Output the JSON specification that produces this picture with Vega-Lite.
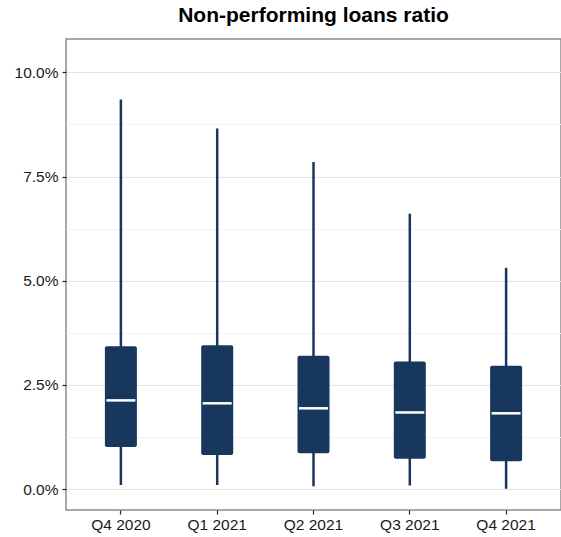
{
  "$schema": "https://vega.github.io/schema/vega-lite/v6.json",
  "autosize": {"type": "none"},
  "width": 495,
  "height": 471,
  "padding": {"left": 66, "top": 39, "right": 0, "bottom": 27},
  "background": "white",
  "config": {
    "font": "Liberation Sans",
    "view": {"stroke": "#8c8c8c", "strokeWidth": 1.5},
    "title": {"fontSize": 21, "fontWeight": "bold", "color": "#000000", "offset": 13}
  },
  "title": "Non-performing loans ratio",
  "data": {
    "values": [
      {"quarter": "Q4 2020", "low": 0.0010, "q1": 0.0101, "median": 0.0213, "q3": 0.0343, "high": 0.0935},
      {"quarter": "Q1 2021", "low": 0.0010, "q1": 0.0082, "median": 0.0206, "q3": 0.0345, "high": 0.0865},
      {"quarter": "Q2 2021", "low": 0.0007, "q1": 0.0086, "median": 0.0194, "q3": 0.0320, "high": 0.0785},
      {"quarter": "Q3 2021", "low": 0.0009, "q1": 0.0073, "median": 0.0184, "q3": 0.0306, "high": 0.0661},
      {"quarter": "Q4 2021", "low": 0.0001, "q1": 0.0067, "median": 0.0182, "q3": 0.0296, "high": 0.0531}
    ]
  },
  "encoding": {
    "x": {
      "field": "quarter",
      "type": "nominal",
      "sort": null,
      "scale": {"paddingInner": 0, "paddingOuter": 0.07},
      "axis": {
        "title": null,
        "labelAngle": 0,
        "labelFontSize": 15.5,
        "labelColor": "#1a1a1a",
        "labelPadding": 3,
        "tickColor": "#222222",
        "tickSize": 4,
        "tickWidth": 1.2,
        "domain": false,
        "grid": false
      }
    }
  },
  "layer": [
    {
      "mark": {"type": "rule", "color": "#17375e", "strokeWidth": 2.5},
      "encoding": {
        "y": {
          "field": "low",
          "type": "quantitative",
          "scale": {"domain": [-0.005, 0.108], "nice": false, "zero": false},
          "axis": {
            "title": null,
            "values": [0, 0.0125, 0.025, 0.0375, 0.05, 0.0625, 0.075, 0.0875, 0.1],
            "labelExpr": "round(datum.value*80) % 2 == 0 ? format(datum.value, '.1%') : ''",
            "labelFontSize": 15.5,
            "labelColor": "#1a1a1a",
            "labelPadding": 4,
            "domain": false,
            "tickColor": "#222222",
            "tickSize": 4,
            "tickWidth": 1.2,
            "tickOpacity": {"condition": {"test": "round(datum.value*80) % 2 == 0", "value": 1}, "value": 0},
            "gridColor": {"condition": {"test": "round(datum.value*80) % 2 == 0", "value": "#e4e4e4"}, "value": "#f3f3f3"},
            "gridWidth": 1.2
          }
        },
        "y2": {"field": "high"}
      }
    },
    {
      "mark": {"type": "bar", "color": "#17375e", "size": 32, "cornerRadius": 2},
      "encoding": {
        "y": {"field": "q1", "type": "quantitative"},
        "y2": {"field": "q3"}
      }
    },
    {
      "mark": {"type": "tick", "color": "#ffffff", "size": 29, "thickness": 2.5, "opacity": 1},
      "encoding": {
        "y": {"field": "median", "type": "quantitative"}
      }
    }
  ]
}
